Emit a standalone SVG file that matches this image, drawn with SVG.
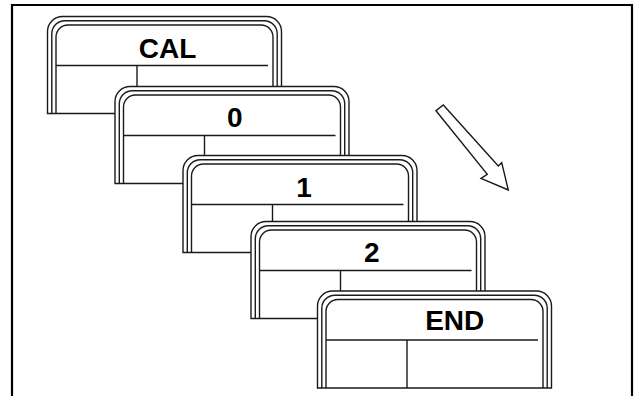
<svg xmlns="http://www.w3.org/2000/svg" xmlns:xlink="http://www.w3.org/1999/xlink" width="640" height="396" viewBox="0 0 640 396">
<style>
.ln{fill:none;stroke:#1a1a1a;stroke-width:1.4}
.bg{fill:#fff;stroke:#1a1a1a;stroke-width:1.4}
.lbl{font-family:"Liberation Sans",Arial,sans-serif;font-weight:bold;font-size:28px;fill:#000;text-anchor:middle}
.frame{fill:none;stroke:#000;stroke-width:2.2}
.arrow{fill:#fff;stroke:#1a1a1a;stroke-width:1.4;stroke-linejoin:miter}
</style>
<defs>
<g id="card">
<path class="bg" d="M0,97 V15 A15,15 0 0 1 15,0 H219 A15,15 0 0 1 234,15 V97 Z"/>
<path class="ln" d="M4.3,97 V17.3 A13,13 0 0 1 17.3,4.3 H216.7 A13,13 0 0 1 229.7,17.3 V97"/>
<path class="ln" d="M8.5,97 V20.5 A12,12 0 0 1 20.5,8.5 H213.5 A12,12 0 0 1 225.5,20.5 V97"/>
<path class="ln" d="M8.5,49 H220.5 M89.5,49 V97"/>
</g>
</defs>
<rect width="640" height="396" fill="#fff"/>
<path class="frame" d="M12,396 V5 H632 V396"/>
<g id="node-cal" transform="translate(47.5,16.5)">
<use xlink:href="#card"/>
<text class="lbl" x="120" y="41">CAL</text>
</g>
<g id="node-0" transform="translate(115,86.5)">
<use xlink:href="#card"/>
<text class="lbl" x="119.7" y="40">0</text>
</g>
<g id="node-1" transform="translate(183,155.5)">
<use xlink:href="#card"/>
<text class="lbl" x="121" y="41">1</text>
</g>
<g id="node-2" transform="translate(251,221.5)">
<use xlink:href="#card"/>
<text class="lbl" x="120.8" y="40.5">2</text>
</g>
<g id="node-end" transform="translate(317.5,291)">
<use xlink:href="#card"/>
<text class="lbl" x="137.2" y="39">END</text>
</g>
<g id="connectors">
<polygon class="arrow" points="436,110.7 487.3,174.3 481,178.3 508.3,190 501.7,162.7 498.3,166 443.3,105"/>
</g>
</svg>
